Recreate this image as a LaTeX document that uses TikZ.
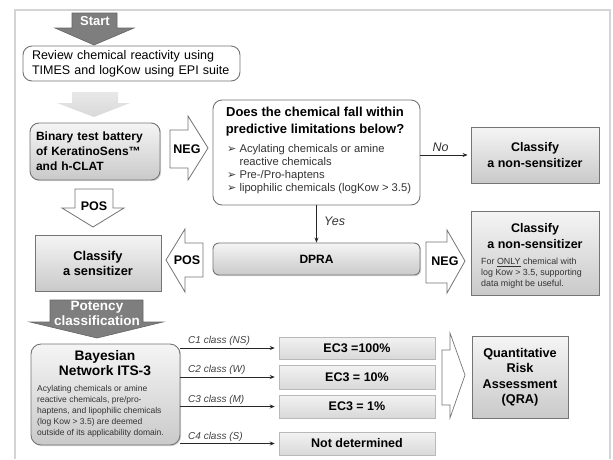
\documentclass[tikz,border=0pt]{standalone}
\usepackage{fontspec}
\setmainfont{Liberation Sans}
\newfontfamily\dejavu{DejaVu Sans}
\usetikzlibrary{shadows,arrows.meta,calc}
\newcommand\myfs[2]{\fontsize{#1}{#2}\selectfont}
\newcommand\bul{{\dejavu\myfs{11}{9}➢}}
\definecolor{bord}{HTML}{747474}
\definecolor{frame}{HTML}{D4D4D4}
\definecolor{darkarrow}{HTML}{7E7E7E}
\begin{document}
\begin{tikzpicture}[x=1pt,y=-1pt,
  box/.style={draw=bord, line width=0.9pt, inner sep=0pt, align=center},
  shad/.style={drop shadow={opacity=0.3, shadow xshift=1.2pt, shadow yshift=-1.2pt}},
  gbox/.style={box, shad, top color=gray!8, bottom color=gray!42},
  lbox/.style={box, shad, draw=gray!55, line width=0.5pt, top color=gray!10, bottom color=gray!30},
  wbox/.style={box, fill=white, rounded corners=9pt},
  barrow/.style={draw=bord, line width=0.8pt, fill=white},
  darrow/.style={draw=darkarrow!80!black, line width=0.6pt, fill=darkarrow},
  arr/.style={-{Stealth[length=5pt,width=4pt]}, line width=0.7pt, draw=black!85},
  lbl/.style={font=\bfseries\myfs{12.5}{14}},
  clab/.style={font=\itshape\myfs{10}{11}, text=black!75, inner sep=1pt, anchor=south west}
]
\useasboundingbox (0,0) rectangle (613,459);
% outer frame
\draw[frame, line width=1.2pt] (15,459) -- (15,10) -- (610,10) -- (610,459);

% Start arrow
\draw[darrow] (72,13) -- (117,13) -- (117,28) -- (134,28) -- (94,45) -- (55,28) -- (72,28) -- cycle;
\node[font=\bfseries\myfs{13}{14}, text=white] (start) at (95,21) {Start};

% review box
\node[wbox, minimum width=217pt, minimum height=35pt, text width=199pt, align=left,
      font=\myfs{12.5}{15}] (review) at (131.5,63.5)
  {Review chemical reactivity using\\TIMES and logKow using EPI suite};

% light gradient arrow
\shade[top color=gray!18, bottom color=gray!30] (72,92) -- (118,92) -- (118,103) -- (130,103) -- (94,117) -- (57,103) -- (72,103) -- cycle;

% binary box
\node[gbox, rounded corners=9pt, minimum width=130pt, minimum height=57pt, text width=118pt, align=left,
      font=\bfseries\myfs{12}{15}] (binary) at (95,151.5)
  {Binary test battery\\of KeratinoSens™\\and h-CLAT};

% NEG arrow 1
\draw[barrow] (170,130) -- (188,130) -- (188,116) -- (208,148) -- (188,180) -- (188,168) -- (170,168) -- cycle;
\node[lbl] (neg1) at (187,149) {NEG};

% question box
\node[wbox, minimum width=207pt, minimum height=105pt] (question) at (316.5,152.5) {};
\node[font=\bfseries\myfs{13}{16.5}, align=center] (qtitle) at (315,121.5)
  {Does the chemical fall within\\predictive limitations below?};
\node[anchor=north west, align=left, inner sep=0pt, font=\myfs{11.2}{13}, text=black!80] (qlist) at (227,144)
  {\bul\ Acylating chemicals or amine\\
   \hphantom{\bul\ }reactive chemicals\\
   \bul\ Pre-/Pro-haptens\\
   \bul\ lipophilic chemicals (logKow > 3.5)};

% classify non-sensitizer 1
\node[gbox, minimum width=128pt, minimum height=56pt, font=\bfseries\myfs{12.5}{16}] (ns1) at (535,155)
  {Classify\\a non-sensitizer};
\draw[arr, shorten >=3pt] (question.east |- ns1.west) -- node[above, font=\itshape\myfs{12.5}{13}, text=black!80, pos=0.4] (no) {No} (ns1.west);

% DPRA
\node[gbox, rounded corners=6pt, minimum width=207pt, minimum height=32pt, font=\bfseries\myfs{12}{13}] (dpra) at (316.5,259) {DPRA};
\draw[arr] (question.south) -- node[right, font=\itshape\myfs{12.5}{13}, text=black!80, pos=0.42, xshift=4pt] (yes) {Yes} (dpra.north);

% POS down arrow
\draw[barrow] (75,189) -- (113,189) -- (113,208) -- (124,208) -- (93,227) -- (62,208) -- (75,208) -- cycle;
\node[lbl] (pos1) at (94,206) {POS};

% classify sensitizer
\node[gbox, minimum width=126pt, minimum height=56pt, font=\bfseries\myfs{12.8}{15}] (sens) at (98,263)
  {Classify\\a sensitizer};

% POS left arrow
\draw[barrow] (203,243) -- (185,243) -- (185,229) -- (166,260) -- (185,292) -- (185,277) -- (203,277) -- cycle;
\node[lbl] (pos2) at (187,260) {POS};

% NEG arrow 2
\draw[barrow] (426,242) -- (447,242) -- (447,230) -- (465,261) -- (447,293) -- (447,283) -- (426,283) -- cycle;
\node[lbl] (neg2) at (445,261) {NEG};

% classify non-sensitizer 2
\node[gbox, minimum width=128pt, minimum height=84pt] (ns2) at (535,253) {};
\node[font=\bfseries\myfs{12.5}{16}, align=center] (ns2t) at (535,236) {Classify\\a non-sensitizer};
\node[anchor=north west, inner sep=0pt, align=left, font=\myfs{8.9}{11}, text=black!80] (ns2n) at (481,258)
  {For \underline{ONLY} chemical with\\log Kow > 3.5, supporting\\data might be useful.};

% Potency arrow
\draw[darrow] (50,300) -- (143,300) -- (143,322) -- (163,322) -- (97,338) -- (30,322) -- (50,322) -- cycle;
\node[font=\bfseries\myfs{13.5}{15.5}, text=white, align=center] (potency) at (97,313.5) {Potency\\classification};

% Bayesian
\node[gbox, rounded corners=10pt, minimum width=149pt, minimum height=101pt] (bay) at (105.5,394.5) {};
\node[font=\bfseries\myfs{13.8}{15.5}, align=center] (bayt) at (105,363) {Bayesian\\Network ITS-3};
\node[anchor=north west, inner sep=0pt, align=left, font=\myfs{8.5}{11}, text=black!80] (bayn) at (37,385.5)
  {Acylating chemicals or amine\\reactive chemicals, pre/pro-\\haptens, and lipophilic chemicals\\(log Kow > 3.5) are deemed\\outside of its applicability domain.};

% EC3 boxes
\node[lbox, minimum width=156pt, minimum height=22pt, font=\bfseries\myfs{12.5}{13}] (ec1) at (357,348) {EC3 =100\%};
\node[lbox, minimum width=156pt, minimum height=24pt, font=\bfseries\myfs{12.5}{13}] (ec2) at (357,377) {EC3 = 10\%};
\node[lbox, minimum width=156pt, minimum height=23pt, font=\bfseries\myfs{12.5}{13}] (ec3) at (357,406.5) {EC3 = 1\%};
\node[lbox, minimum width=156pt, minimum height=23pt, font=\bfseries\myfs{12.5}{13}] (ec4) at (357,443.5) {Not determined};

% class connectors
\draw[arr, shorten >=4pt] (bay.east |- ec1.west) -- (ec1.west);
\draw[arr, shorten >=4pt] (bay.east |- ec2.west) -- (ec2.west);
\draw[arr, shorten >=4pt] (bay.east |- ec3.west) -- (ec3.west);
\draw[arr, shorten >=4pt] (bay.east |- ec4.west) -- (ec4.west);
\node[clab] (c1) at (187,347) {C1 class (NS)};
\node[clab] (c2) at (187,376) {C2 class (W)};
\node[clab] (c3) at (187,405.5) {C3 class (M)};
\node[clab] (c4) at (187,442.5) {C4 class (S)};

% bracket arrow
\draw[barrow, line width=0.7pt] (442,350) -- (450,350) -- (450,333) -- (465,375) -- (450,418) -- (450,405) -- (442,405) -- cycle;

% QRA
\node[gbox, minimum width=96pt, minimum height=82pt, font=\bfseries\myfs{12.7}{15.5}] (qra) at (520,377)
  {Quantitative\\Risk\\Assessment\\(QRA)};
\end{tikzpicture}
\end{document}
